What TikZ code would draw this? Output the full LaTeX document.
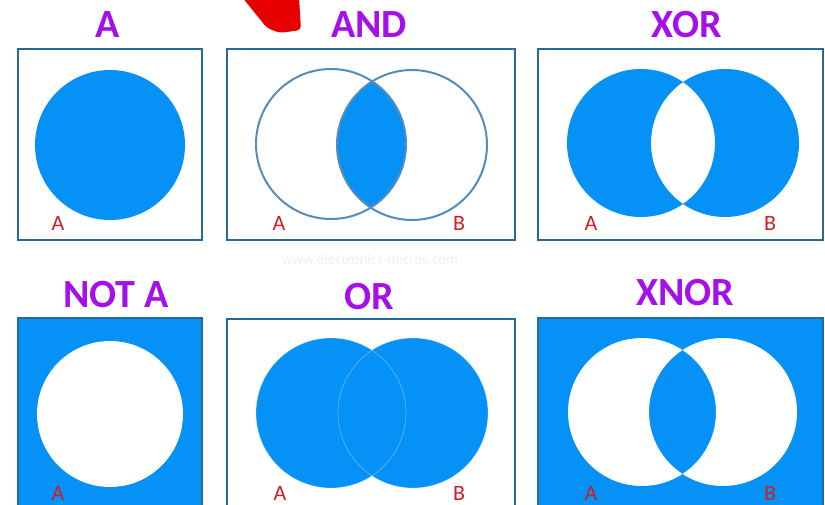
\documentclass[tikz,border=0pt]{standalone}
\usepackage{fontspec}
\setmainfont{Carlito}
\definecolor{vblue}{RGB}{5,145,245}
\definecolor{boxblue}{RGB}{40,105,155}
\definecolor{ringblue}{RGB}{85,140,190}
\definecolor{titlepurple}{RGB}{165,15,235}
\definecolor{lblred}{RGB}{205,30,40}
\definecolor{arrred}{RGB}{230,0,0}
\tikzset{
  panel/.style={draw=boxblue, line width=2.2pt},
  title/.style={font=\fontsize{40}{40}\selectfont\bfseries, text=titlepurple, inner sep=0pt},
  lbl/.style={font=\fontsize{22}{22}\selectfont, text=lblred, inner sep=0pt},
  ring/.style={draw=ringblue, line width=2pt},
  faint/.style={draw=white, draw opacity=0.3, line width=0.8pt}
}
\begin{document}
\begin{tikzpicture}[x=1pt,y=-1pt]
\useasboundingbox (0,0) rectangle (825,505);
\clip (0,0) rectangle (825,505);
\fill[white] (0,0) rectangle (825,505);
% red stroke at top
\fill[arrred, rounded corners=4pt] (242,-3) -- (267,28) -- (280,33) -- (301,30) -- (299,-3) -- cycle;
% watermark
\node[font=\fontsize{15}{15}\selectfont, text=black!6, inner sep=0pt] (wm) at (370,259) {www.electronics-micros.com};

% ---- Panel A ----
\draw[panel] (18,49) rectangle (202,240);
\fill[vblue] (110,145) circle (75);
\node[title] (tA) at (108,25) {A};
\node[lbl] (lA1) at (58,223) {A};

% ---- Panel AND ----
\draw[panel] (227,49) rectangle (515,240);
\begin{scope}
  \clip (331,144) circle (75);
  \fill[vblue] (412,145) circle (75);
\end{scope}
\draw[ring] (331,144) circle (75);
\draw[ring] (412,145) circle (75);
\node[title] (tAND) at (369,25) {AND};
\node[lbl] (lA2) at (279,223) {A};
\node[lbl] (lB2) at (459,223) {B};

% ---- Panel XOR ----
\draw[panel] (538,49) rectangle (823,240);
\fill[vblue, even odd rule] (641,143) circle (74) (725,143) circle (74);
\node[title] (tXOR) at (687,25) {XOR};
\node[lbl] (lA3) at (591,223) {A};
\node[lbl] (lB3) at (770,223) {B};

% ---- Panel NOT A ----
\fill[vblue] (18,318) rectangle (202,515);
\draw[panel] (18,318) rectangle (202,515);
\fill[white] (110,414) circle (73);
\node[title] (tNOT) at (116,295) {NOT A};
\node[lbl] (lA4) at (58,493) {A};

% ---- Panel OR ----
\draw[panel] (227,319) rectangle (515,515);
\fill[vblue] (331,413) circle (75) (413,413) circle (75);
\draw[faint] (331,413) circle (75);
\draw[faint] (413,413) circle (75);
\node[title] (tOR) at (369,297) {OR};
\node[lbl] (lA5) at (280,493) {A};
\node[lbl] (lB5) at (459,493) {B};

% ---- Panel XNOR ----
\fill[vblue] (538,318) rectangle (823,515);
\draw[panel] (538,318) rectangle (823,515);
\fill[white, even odd rule] (642,412) circle (74) (723,412) circle (74);
\node[title] (tXNOR) at (685,293) {XNOR};
\node[lbl] (lA6) at (591,493) {A};
\node[lbl] (lB6) at (770,493) {B};
\end{tikzpicture}
\end{document}
